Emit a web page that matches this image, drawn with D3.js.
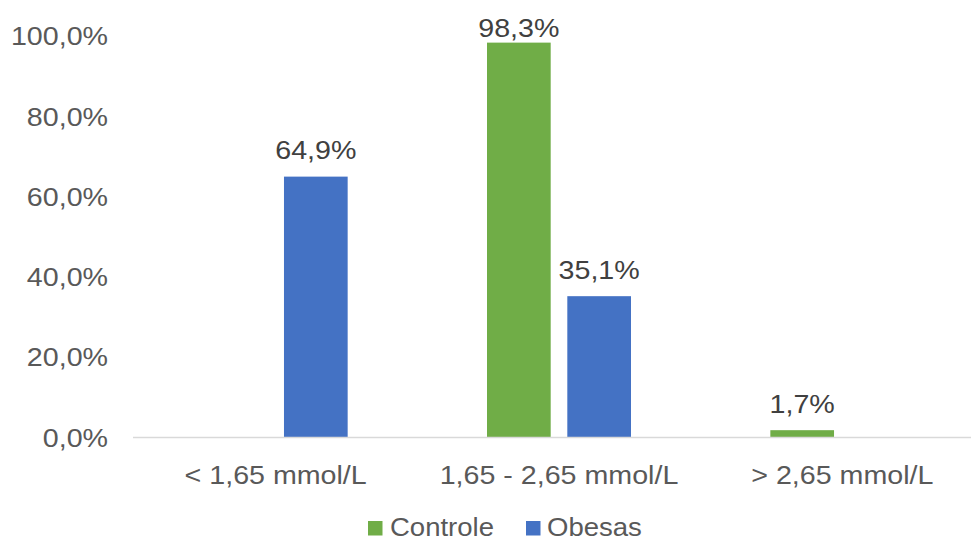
<!DOCTYPE html>
<html>
<head>
<meta charset="utf-8">
<script src="https://cdn.jsdelivr.net/npm/d3@7"></script>
<style>
  html, body { margin: 0; padding: 0; background: #fff; }
  svg { display: block; font-family: "Liberation Sans", Arial, sans-serif; }
</style>
</head>
<body>
<svg id="chart" width="971" height="541"></svg>
<script>
// Triglyceride ranges and share of participants in each group
const categories = ["< 1,65 mmol/L", "1,65 - 2,65 mmol/L", "> 2,65 mmol/L"];
const seriesNames = ["Controle", "Obesas"];
const controle = [0, 0.983, 0.017];
const obesas = [0.649, 0.351, 0];
const yTicks = [0, 0.2, 0.4, 0.6, 0.8, 1.0];
const colors = { Controle: "#70ad47", Obesas: "#4472c4" };

const series = [
  { name: "Controle", values: controle },
  { name: "Obesas", values: obesas }
];

const W = 971, H = 541;
const plot = { left: 134, right: 984, top: 35.8, bottom: 437 };
const fontSize = 26.5;
const stretch = 1.08;

const ptBR = d3.formatLocale({ decimal: ",", thousands: ".", grouping: [3], currency: ["R$", ""] });
const pct1 = ptBR.format(".1%");

const svg = d3.select("#chart");

const y = d3.scaleLinear().domain([0, 1]).range([plot.bottom, plot.top]);
const x0 = d3.scaleBand().domain(categories).range([plot.left, plot.right])
  .paddingInner(0.4918).paddingOuter(0.2459);
const x1 = d3.scaleBand().domain(seriesNames).range([0, x0.bandwidth()]).paddingInner(0.207);

// helper for horizontally widened text
function label(g, x, yPos, text, anchor, fill, size) {
  g.append("text")
    .attr("transform", `translate(${x},${yPos}) scale(${stretch},1)`)
    .attr("text-anchor", anchor)
    .attr("font-size", size || fontSize)
    .attr("fill", fill)
    .text(text);
}

// Y axis labels
const yAxis = svg.append("g");
yTicks.forEach(t => {
  label(yAxis, 108, y(t) + 9.5, pct1(t), "end", "#595959");
});

// Bars
const groups = svg.append("g").selectAll("g")
  .data(categories)
  .join("g")
  .attr("transform", d => `translate(${x0(d)},0)`);

groups.selectAll("rect")
  .data((c, i) => series.map(s => ({ name: s.name, value: s.values[i] })).filter(d => d.value > 0))
  .join("rect")
  .attr("x", d => x1(d.name))
  .attr("width", x1.bandwidth())
  .attr("y", d => y(d.value))
  .attr("height", d => y(0) - y(d.value))
  .attr("fill", d => colors[d.name]);

// Value labels above bars (kept inside the chart's top edge)
const valueLabels = svg.append("g");
categories.forEach((c, i) => {
  series.forEach(s => {
    const v = s.values[i];
    if (v > 0) {
      const cx = x0(c) + x1(s.name) + x1.bandwidth() / 2;
      const ty = Math.max(y(v) - 17.5, 36.5);
      label(valueLabels, cx, ty, pct1(v), "middle", "#404040");
    }
  });
});

// Category axis line
svg.append("line")
  .attr("x1", 133).attr("x2", W)
  .attr("y1", plot.bottom + 0.5).attr("y2", plot.bottom + 0.5)
  .attr("stroke", "#d9d9d9").attr("stroke-width", 1.5);

// Category labels
const xAxis = svg.append("g");
categories.forEach(c => {
  label(xAxis, x0(c) + x0.bandwidth() / 2, 483.5, c, "middle", "#595959");
});

// Legend
const legend = svg.append("g");
const legendItems = [
  { name: "Controle", sx: 368, tx: 390 },
  { name: "Obesas", sx: 526, tx: 547 }
];
legendItems.forEach(it => {
  legend.append("rect")
    .attr("x", it.sx).attr("y", 521)
    .attr("width", 14.5).attr("height", 14.5)
    .attr("fill", colors[it.name]);
  label(legend, it.tx, 536, it.name, "start", "#595959", 25.5);
});
</script>
</body>
</html>
